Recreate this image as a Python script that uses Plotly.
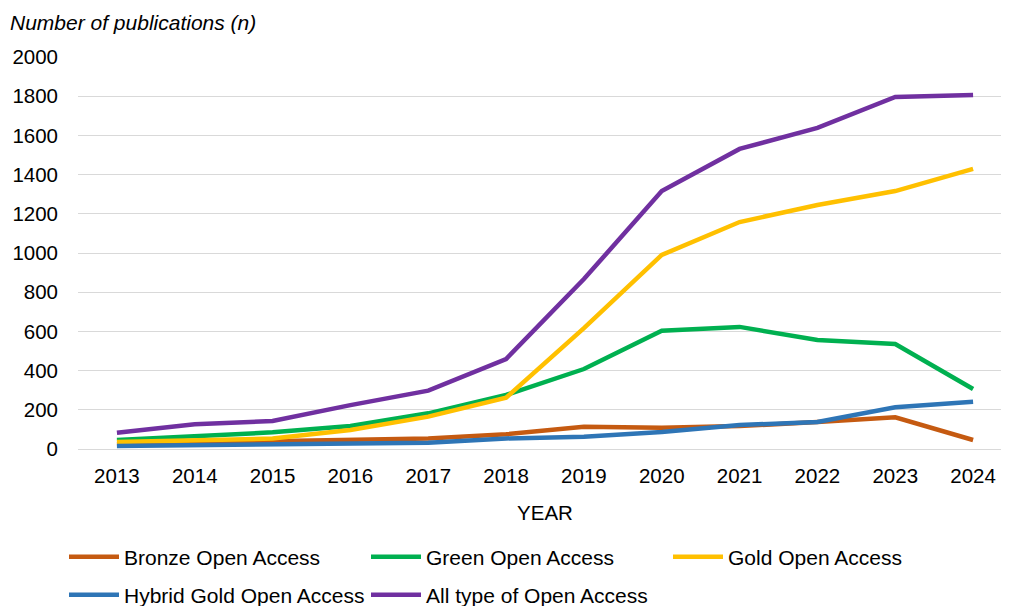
import plotly.graph_objects as go

years = ["2013", "2014", "2015", "2016", "2017", "2018", "2019", "2020", "2021", "2022", "2023", "2024"]
bronze = [26, 32, 41, 49, 54, 75, 114, 109, 117, 138, 162, 46]
green = [46, 63, 85, 117, 182, 276, 408, 603, 623, 556, 536, 306]
gold = [36, 46, 53, 97, 165, 262, 617, 990, 1158, 1245, 1316, 1429]
hybrid = [15, 20, 24, 29, 32, 54, 63, 87, 122, 138, 213, 241]
all_oa = [83, 126, 143, 224, 298, 459, 867, 1316, 1531, 1638, 1796, 1806]

series = [
    ("Bronze Open Access", bronze, "#C55A11", "legend"),
    ("Green Open Access", green, "#00B050", "legend"),
    ("Gold Open Access", gold, "#FFC000", "legend"),
    ("Hybrid Gold Open Access", hybrid, "#2E75B6", "legend2"),
    ("All type of Open Access", all_oa, "#7030A0", "legend2"),
]

fig = go.Figure()
for name, vals, col, lg in series:
    fig.add_trace(go.Scatter(x=years, y=vals, name=name, mode="lines", legend=lg,
                             line=dict(color=col, width=4.5)))

FAM = "Liberation Sans, Arial, sans-serif"
font = dict(family=FAM, size=20.5, color="#000000")

H, W = 606, 1009
leg_common = dict(orientation="h", xref="container", yref="container",
                  xanchor="left", yanchor="middle",
                  entrywidth=237, entrywidthmode="pixels",
                  font=dict(family=FAM, size=21, color="#000000"),
                  itemwidth=50, bgcolor="rgba(0,0,0,0)")

fig.update_layout(
    width=W, height=H,
    margin=dict(l=70, r=5, t=49, b=165),
    paper_bgcolor="white", plot_bgcolor="white",
    font=font,
    showlegend=True,
    legend=dict(x=56 / W, y=1 - 549 / H, **leg_common),
    legend2=dict(x=56 / W, y=1 - 587 / H, **leg_common),
    annotations=[dict(text="<i>Number of publications (n)</i>", xref="paper", yref="paper",
                      x=(0 - 70) / 934, y=1 + 35 / 392, xanchor="left", yanchor="middle",
                      showarrow=False, font=dict(family=FAM, size=21))],
)
fig.update_xaxes(type="category", range=[-0.5, 11.5], showgrid=False, zeroline=False,
                 showline=False, ticks="", tickfont=dict(size=20.5), ticklabelstandoff=12,
                 title=dict(text="YEAR", font=dict(size=20.5), standoff=20))
fig.update_yaxes(range=[0, 2000], dtick=200, showgrid=True, gridcolor="#D9D9D9",
                 gridwidth=1.3, zeroline=True, zerolinecolor="#D9D9D9", zerolinewidth=1.3,
                 showline=False, ticks="", ticklabelstandoff=19, tickfont=dict(size=20.5))

fig.write_html("out.html")
